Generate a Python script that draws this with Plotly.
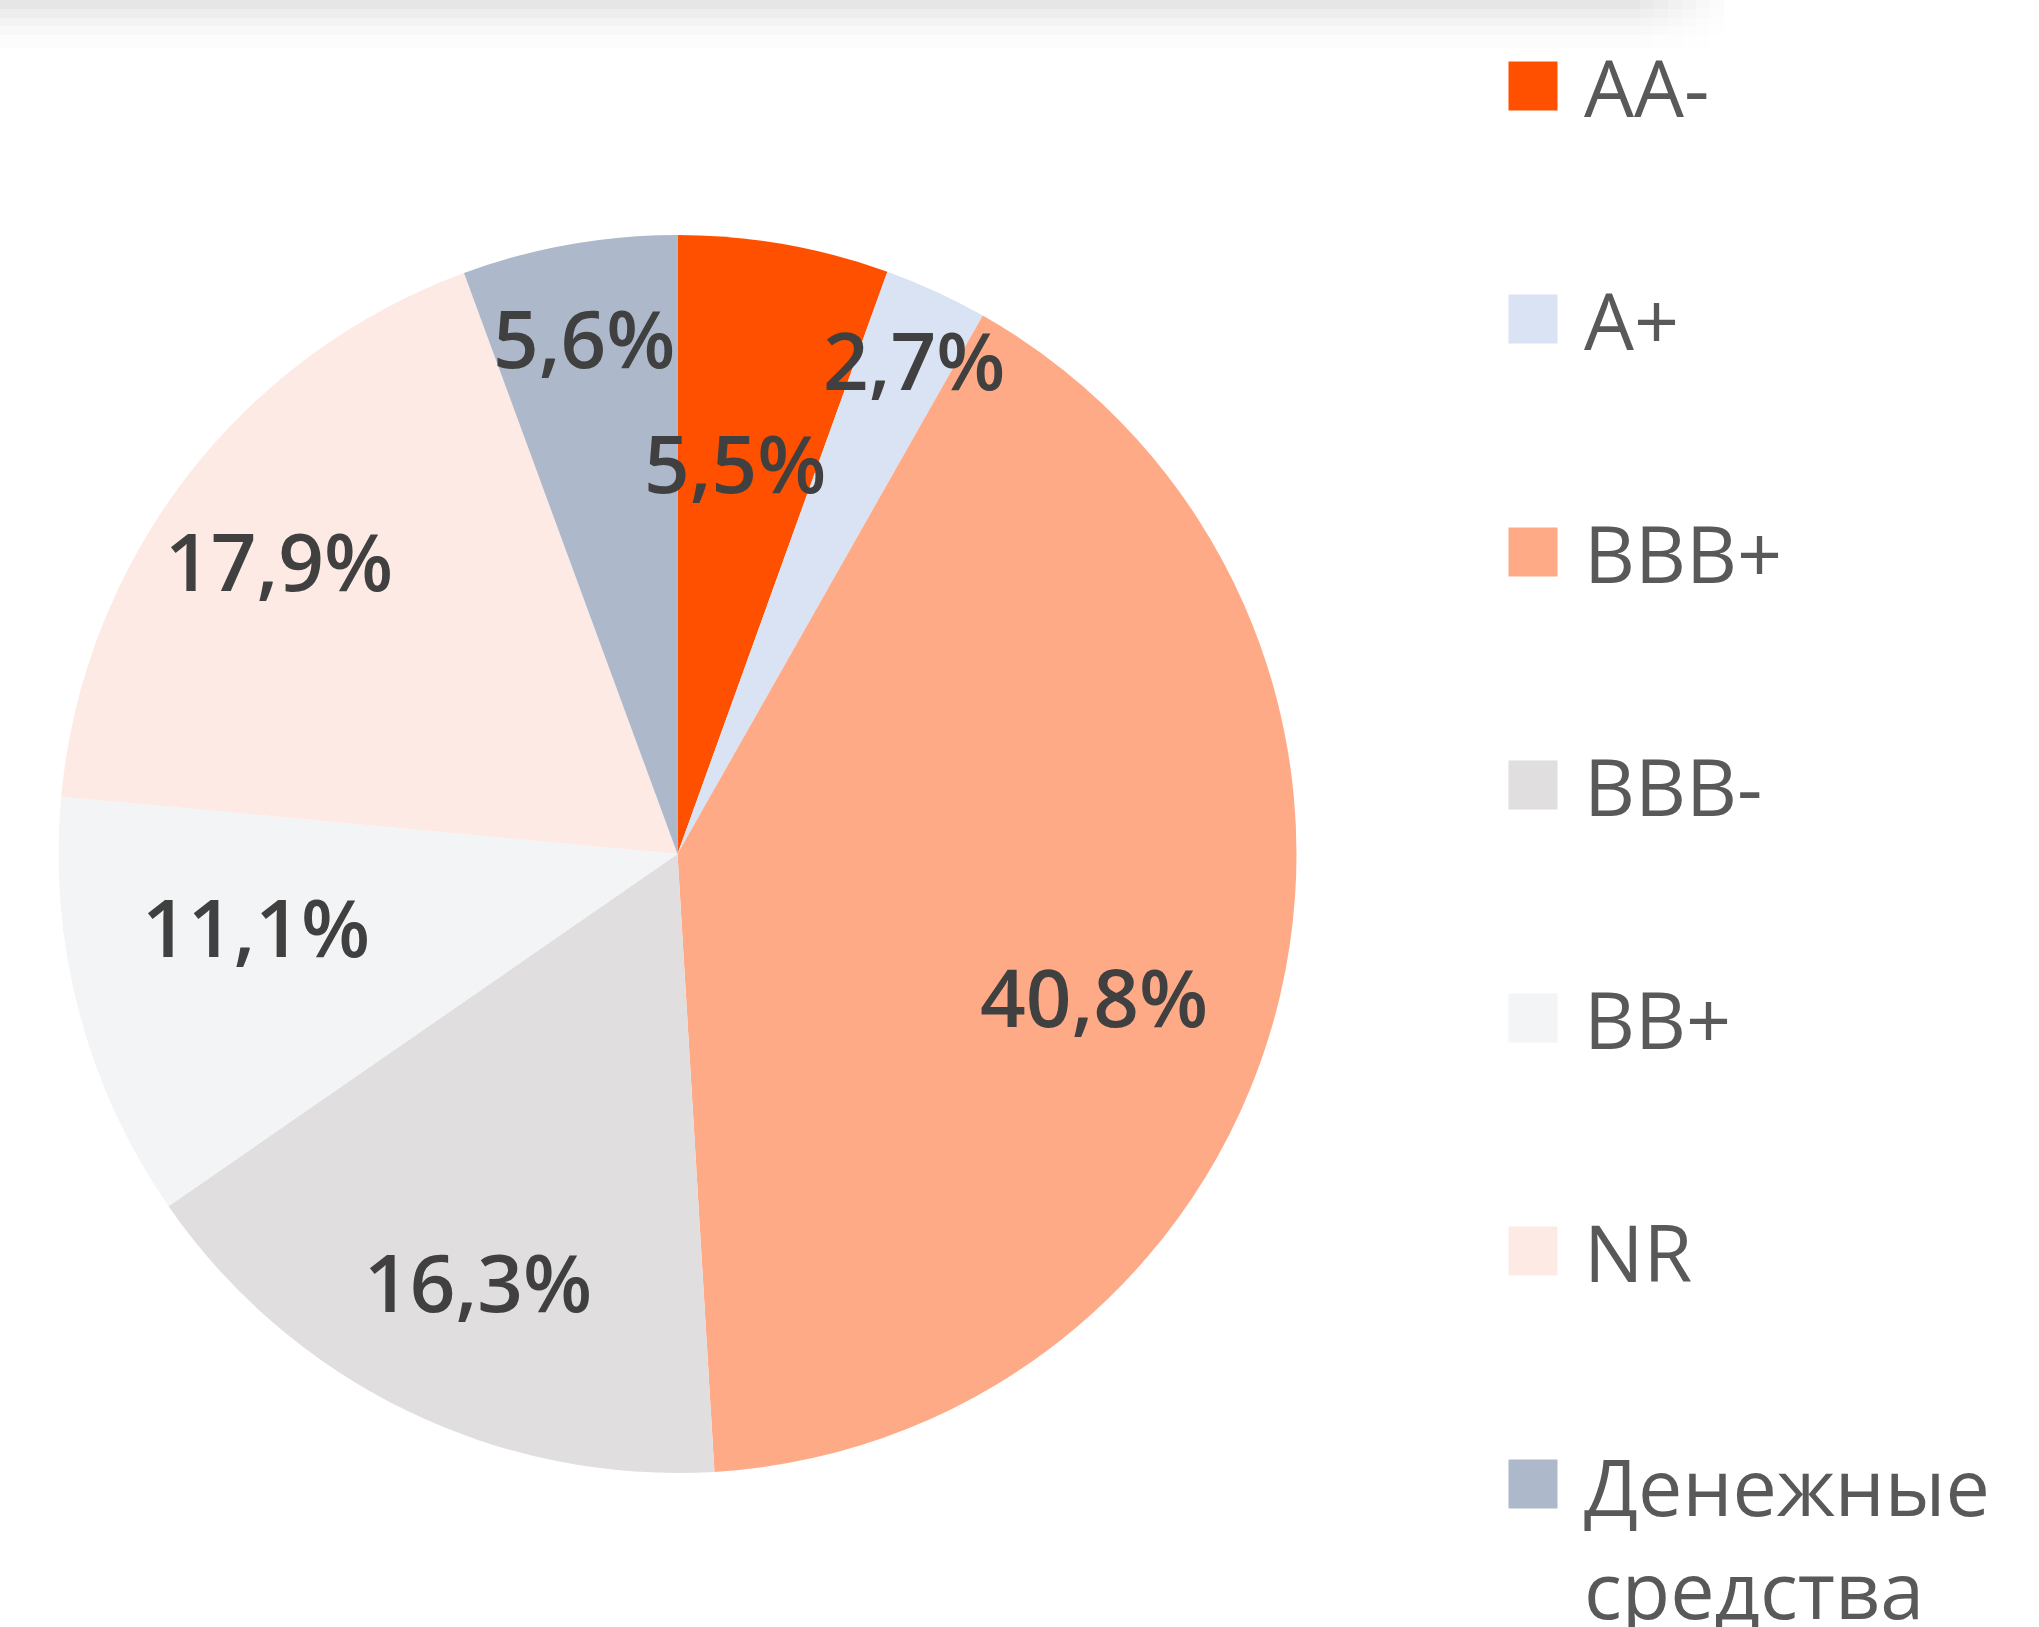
import math
import plotly.graph_objects as go

# ---- data ----
categories = ["AA-", "A+", "BBB+", "BBB-", "BB+", "NR", "Денежные<br>средства"]
shares = [5.5, 2.7, 40.8, 16.3, 11.1, 17.9, 5.6]
share_labels = ["5,5%", "2,7%", "40,8%", "16,3%", "11,1%", "17,9%", "5,6%"]

# ---- style ----
colors = ["#FF5000", "#DAE3F3", "#FFAA87", "#E0DEDF", "#F3F4F6", "#FEEAE4", "#ADB9CA"]
label_r = [0.64, 0.887, 0.71, 0.76, 0.69, 0.80, 0.85]      # radial fraction of label
label_dang = [-1.6, 0.8, 5.7, -0.9, 5.1, -1.1, -0.1]        # angle tweak (deg)

W, H = 2039, 1627
CX, CY, R = 677.5, 854.0, 619.0  # pixel geometry of the pie

fig = go.Figure()

# top shadow band
shadow = [("#E6E6E6", 0, 9), ("#EDEDED", 9, 18), ("#F3F3F4", 18, 26),
          ("#F8F8F8", 26, 35), ("#FCFCFC", 35, 48)]
for col, y0, y1 in shadow:
    fig.add_shape(type="rect", xref="paper", yref="paper",
                  x0=0, x1=1640 / W, y0=1 - y1 / H, y1=1 - y0 / H,
                  fillcolor=col, line_width=0, layer="below")
    for k in range(6):
        fig.add_shape(type="rect", xref="paper", yref="paper",
                      x0=(1640 + k * 14) / W, x1=(1654 + k * 14) / W,
                      y0=1 - y1 / H, y1=1 - y0 / H,
                      fillcolor=col, opacity=1 - (k + 1) / 7, line_width=0, layer="below")

fig.add_trace(go.Pie(
    labels=categories, values=shares, sort=False, direction="clockwise", rotation=0,
    marker=dict(colors=colors, line=dict(width=0)),
    textinfo="none", hoverinfo="label+percent", showlegend=False,
    domain=dict(x=[(CX - R) / W, (CX + R) / W], y=[1 - (CY + R) / H, 1 - (CY - R) / H]),
))

# slice labels placed at their slice angles
total = sum(shares)
cum = 0.0
for i, v in enumerate(shares):
    mid = (cum + v / 2) / total * 360 + label_dang[i]
    cum += v
    a = math.radians(mid)
    px = CX + R * label_r[i] * math.sin(a)
    py = CY - R * label_r[i] * math.cos(a)
    fig.add_annotation(x=px / W, y=1 - py / H, xref="paper", yref="paper",
                       text=share_labels[i], showarrow=False,
                       xanchor="center", yanchor="middle",
                       font=dict(family="Open Sans", size=80, color="#404040", weight=600))

# legend drawn as square markers on a hidden axis
idx = list(range(len(categories)))
fig.add_trace(go.Scatter(
    x=[1533] * len(categories), y=idx, mode="markers", showlegend=False, hoverinfo="skip",
    marker=dict(symbol="square", size=49, color=colors, line=dict(width=0)),
    xaxis="x", yaxis="y",
))
LEG_FONT = dict(family="Open Sans", size=79, color="#595959", weight=400)
for i, name in enumerate(categories):
    if "<br>" in name:
        fig.add_annotation(x=1582, y=i, xref="x", yref="y", text=name, showarrow=False,
                           xanchor="left", yanchor="top", align="left", yshift=54,
                           font=LEG_FONT)
    else:
        fig.add_annotation(x=1582, y=i, xref="x", yref="y", text=name, showarrow=False,
                           xanchor="left", yanchor="middle", align="left",
                           font=LEG_FONT)

y_top = -86 / 233
y_bot = (H - 86) / 233
fig.update_layout(
    width=W, height=H,
    margin=dict(l=0, r=0, t=0, b=0),
    paper_bgcolor="white", plot_bgcolor="rgba(0,0,0,0)",
    xaxis=dict(range=[0, W], visible=False, domain=[0, 1], fixedrange=True),
    yaxis=dict(range=[y_bot, y_top], visible=False, domain=[0, 1], fixedrange=True),
    showlegend=False,
)

fig.write_html("out.html", config={"displayModeBar": False},
               post_script="document.body.style.margin='0';")
